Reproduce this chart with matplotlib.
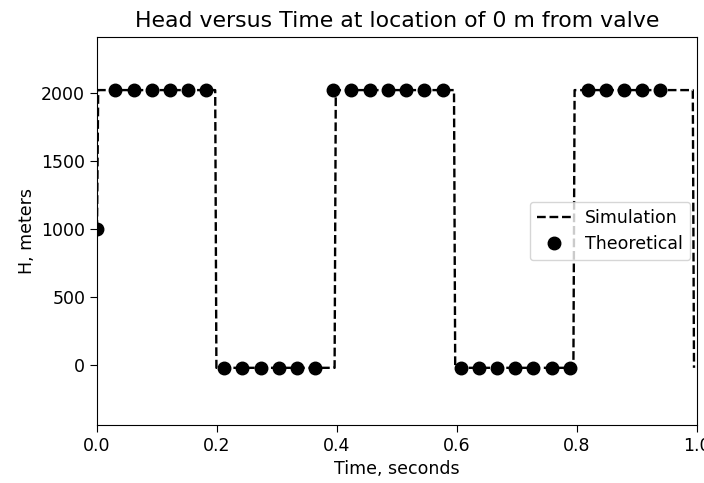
import matplotlib
matplotlib.use("Agg")
import matplotlib.pyplot as plt

# Simulated head at the valve (step-like water-hammer response)
sim_time = [0.0, 0.002, 0.197, 0.199, 0.396, 0.398, 0.595, 0.597, 0.794, 0.796, 0.993, 0.995]
sim_head = [1000, 2020, 2020, -20, -20, 2020, 2020, -20, -20, 2020, 2020, -20]

# Theoretical head at discrete times
theo_time = [0.000, 0.030, 0.061, 0.091, 0.121, 0.152, 0.182, 0.212, 0.242, 0.273,
             0.303, 0.333, 0.364, 0.394, 0.424, 0.455, 0.485, 0.515, 0.545, 0.576,
             0.606, 0.636, 0.667, 0.697, 0.727, 0.758, 0.788, 0.818, 0.848, 0.879,
             0.909, 0.939]
theo_head = [1000, 2020, 2020, 2020, 2020, 2020, 2020, -20, -20, -20,
             -20, -20, -20, 2020, 2020, 2020, 2020, 2020, 2020, 2020,
             -20, -20, -20, -20, -20, -20, -20, 2020, 2020, 2020,
             2020, 2020]

x_ticks = [0.0, 0.2, 0.4, 0.6, 0.8, 1.0]
y_ticks = [0, 500, 1000, 1500, 2000]

fig = plt.figure(figsize=(7.04, 4.83), dpi=100)
ax = fig.add_axes([97 / 704, 1 - 425 / 483, 600 / 704, 388 / 483])

ax.plot(sim_time, sim_head, "k--", linewidth=1.7, label="Simulation")
ax.plot(theo_time, theo_head, "ko", markersize=9, label="Theoretical")

ax.set_xlim(0, 1)
ax.set_ylim(-440, 2410)
ax.set_xticks(x_ticks)
ax.set_yticks(y_ticks)
ax.tick_params(labelsize=12.5, length=5)
ax.set_title("Head versus Time at location of 0 m from valve", fontsize=15.8, pad=7)
ax.set_xlabel("Time, seconds", fontsize=12.5)
ax.set_ylabel("H, meters", fontsize=12.5)
ax.legend(loc="center right", fontsize=12.5, borderaxespad=0.4)

fig.savefig("out.png", dpi=100)
